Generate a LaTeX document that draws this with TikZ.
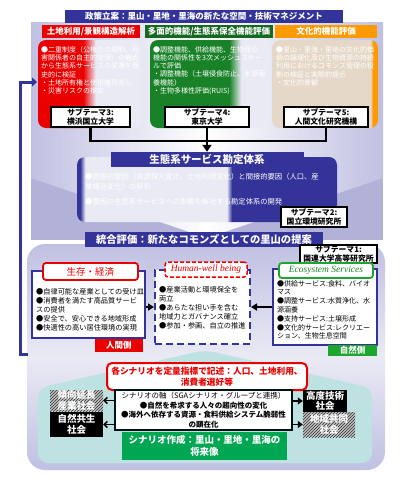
\documentclass[tikz,border=0pt]{standalone}
\usepackage{fontspec}
\setmainfont{Noto Sans CJK JP}
\newfontfamily\romfont{Liberation Serif}
\usetikzlibrary{arrows.meta,patterns}

\definecolor{navyblue}{RGB}{51,51,153}
\definecolor{colred}{RGB}{235,0,0}
\definecolor{colgreen}{RGB}{25,130,40}
\definecolor{colorange}{RGB}{255,153,0}
\definecolor{beige}{RGB}{230,216,200}
\definecolor{lavender}{RGB}{192,192,226}
\definecolor{lavdeep}{RGB}{178,178,216}
\definecolor{palelav}{RGB}{234,234,245}
\definecolor{houseteal}{RGB}{190,226,226}
\definecolor{leafgreen}{RGB}{0,166,81}
\definecolor{tagreen}{RGB}{30,165,45}

\pgfdeclarehorizontalshading{redfade}{100bp}{color(0bp)=(colred); color(47bp)=(colred); color(53bp)=(palelav); color(100bp)=(palelav)}
\pgfdeclarehorizontalshading{greenfade}{100bp}{color(0bp)=(colgreen); color(58bp)=(colgreen); color(63bp)=(palelav); color(100bp)=(palelav)}
\pgfdeclarehorizontalshading{orangefade}{100bp}{color(0bp)=(beige); color(71.5bp)=(beige); color(72.6bp)=(colorange); color(100bp)=(colorange)}
\pgfdeclarehorizontalshading{navyfade}{100bp}{color(0bp)=(navyblue); color(25.6bp)=(navyblue); color(26.6bp)=(palelav); color(53.8bp)=(palelav); color(54.8bp)=(navyblue); color(100bp)=(navyblue)}

\newcommand{\fsz}[2]{\fontsize{#1}{#2}\selectfont}

\tikzset{
    headbar/.style={fill=navyblue, text=white, inner sep=0, font=\fsz{8.5}{10}\bfseries},
    colhead/.style={text=white, inner sep=0, minimum height=13, font=\fsz{8.5}{10}\bfseries},
    colbox/.style={shade, rounded corners=8, inner sep=0, minimum height=88},
    coltext/.style={text=white, anchor=north west, align=left, inner sep=0, font=\fsz{7}{8.3}},
    subbox/.style={draw=black, line width=1.3pt, fill=white, align=center, inner sep=0, minimum height=20, font=\fsz{7.8}{8.8}\bfseries},
    bodytext/.style={text=black, anchor=north west, align=left, inner sep=0, font=\fsz{7.2}{9}},
    panel/.style={draw=navyblue, line width=2pt, fill=white, inner sep=0},
    labelbox/.style={fill=white, rounded corners=3, line width=1.8pt, inner sep=0},
    tagbox/.style={text=white, inner sep=0, font=\fsz{8.5}{9}\bfseries},
    sidebox/.style={minimum width=53, text=white, align=center, inner sep=0, font=\fsz{9.5}{10.5}\bfseries},
    darkbox/.style={sidebox, fill=black},
    hatchbox/.style={sidebox, preaction={fill=gray!50}, pattern=north east lines, pattern color=black!80},
    joinline/.style={line width=2.2pt},
    sidearrow/.style={line width=2pt, -{Triangle[length=6pt,width=7pt]}},
    leftarrow/.style={line width=1.6pt, -{Straight Barb[length=3pt,width=6pt]}},
    rightarrow/.style={line width=1.6pt, -{Triangle[length=5pt,width=7pt]}},
    fbline/.style={navyblue, line width=3pt, -{Triangle[length=5pt,width=9pt]}}
}

\begin{document}
\begin{tikzpicture}[x=1pt, y=-1pt]
    \useasboundingbox (0,0) rectangle (400,483);
    \fill[lavdeep] (31,22) rectangle (383,240);
    \shade[left color=lavender, right color=lavender, middle color=white] (31,22) -- (383,22) -- (383,178) -- (207,238) -- (31,178) -- cycle;
    \shade[top color=lavender, bottom color=lavender, middle color=palelav, rounded corners=18] (27,244) rectangle (385,470);
    \fill[houseteal, rounded corners=10] (38,388) -- (205,350) -- (372,388) -- (372,463) -- (38,463) -- cycle;

    \node[headbar, minimum width=278, minimum height=13] (policy) at (204,16.5) {政策立案：里山・里地・里海の新たな空間・技術マネジメント};
    \node[colhead, fill=colred, minimum width=98] (landhead) at (91,31.5) {土地利用/景観構造解析};
    \node[colhead, fill=colgreen!80!black, minimum width=128] (multihead) at (209,31.5) {多面的機能/生態系保全機能評価};
    \node[colhead, fill=colorange, minimum width=102] (culthead) at (326,31.5) {文化的機能評価};

    \node[colbox, shading=redfade, minimum width=103] (landbox) at (89.5,84) {};
    \node[colbox, shading=greenfade, minimum width=120] (multibox) at (210,84) {};
    \node[colbox, shading=orangefade, minimum width=106] (cultbox) at (325,84) {};
    \node[coltext] (landtext) at (41,46) {●二重制度（公権力の規制、利\\害関係者の自主的管理）の観点\\から生態系サービスの変遷を歴\\史的に検証\\・土地所有権と使用権見直し\\・災害リスクの推定};
    \node[coltext] (multitext) at (153,46) {●調整機能、供給機能、生物保全\\機能の関係性を3次メッシュスケー\\ルで評価\\・調整機能（土壌侵食防止、水源涵\\養機能）\\・生物多様性評価(RUIS)};
    \node[coltext] (culttext) at (276,46) {●里山・里海・里地の文化的価\\値の論理化及び生物資源の持続\\利用におけるコモンズ管理の役\\割の検証と実際的提示\\・文化的景観};

    \node[subbox, minimum width=79] (sub3) at (90.5,117) {サブテーマ3:\\横浜国立大学};
    \node[subbox, minimum width=84] (sub4) at (207,117) {サブテーマ4:\\東京大学};
    \node[subbox, minimum width=84] (sub5) at (326,117) {サブテーマ5:\\人間文化研究機構};

    \node[shade, shading=navyfade, rounded corners=8, inner sep=0, minimum width=260, minimum height=65] (esbox) at (207,189.5) {};
    \node[headbar, minimum width=193, minimum height=15, font=\fsz{10.5}{12}\bfseries] (esbar) at (207,159.5) {生態系サービス勘定体系};
    \node[coltext, font=\fsz{7.3}{10}] (estext) at (85,173) {●直接的要因（資源投入変化、土地利用変化）と間接的要因（人口、産\\業構造変化）の解析\\[5pt]●要因の生態系サービスへの影響を解析する勘定体系の開発};
    \node[subbox, minimum width=66] (sub2) at (314,217) {サブテーマ2:\\国立環境研究所};

    \node[headbar, minimum width=238, minimum height=15, font=\fsz{10.3}{12}\bfseries] (evalbar) at (204,239.5) {統合評価：新たなコモンズとしての里山の提案};
    \node[subbox, minimum width=77, minimum height=18, font=\fsz{7.8}{8.4}\bfseries] (sub1) at (338.5,254) {サブテーマ1:\\国連大学高等研究所};

    \node[panel, minimum width=113, minimum height=67] (lifebox) at (88.5,304.5) {};
    \node[labelbox, draw=colred, minimum width=95, minimum height=17, text=colred, font=\fsz{9.5}{10}] (lifetitle) at (90.5,271.5) {生存・経済};
    \node[bodytext] (lifetext) at (36,288) {●自律可能な産業としての受け皿\\●消費者を満たす高品質サービ\\スの提供\\●安全で、安心できる地域形成\\●快適性の高い居住環境の実現};
    \node[tagbox, fill=colred, minimum width=48, minimum height=13] (humantag) at (119,345.5) {人間側};

    \node[panel, dash pattern=on 7pt off 4pt, minimum width=95, minimum height=74] (hwbox) at (202.5,307) {};
    \node[labelbox, draw=colred, dash pattern=on 4pt off 2pt, line width=1.5pt, minimum width=82, minimum height=15, text=colred, font=\fsz{9.5}{10}\romfont\itshape] (hwtitle) at (206,269.5) {Human-well being};
    \node[bodytext] (hwtext) at (159,286) {●産業活動と環境保全を\\両立\\●あらたな担い手を含む\\地域力とガバナンス確立\\●参加・参画、自立の推進};

    \node[panel, minimum width=104, minimum height=76] (ecobox) at (325,307) {};
    \node[labelbox, draw=tagreen, minimum width=94, minimum height=15, text=colgreen, font=\fsz{9.5}{10}\romfont\itshape] (ecotitle) at (326,270.5) {Ecosystem Services};
    \node[bodytext, font=\fsz{7}{8.8}] (ecotext) at (277,280) {●供給サービス:食料、バイオ\\マス\\●調整サービス:水質浄化、水\\源涵養\\●支持サービス:土壌形成\\●文化的サービス:レクリエー\\ション、生物生息空間};
    \node[tagbox, fill=tagreen, minimum width=49, minimum height=11] (naturetag) at (352.5,350.5) {自然側};

    \draw[sidearrow] (lifebox.east |- hwbox.west) -- (hwbox.west);
    \draw[sidearrow] (ecobox.west |- hwbox.east) -- (hwbox.east);

    \node[labelbox, draw=colred, rounded corners=5, line width=2pt, minimum width=200, minimum height=27, text=colred, align=center, font=\fsz{8.7}{11}\bfseries] (quantbox) at (207,376.5) {各シナリオを定量指標で記述：人口、土地利用、\\消費者選好等};
    \node[draw=black!85!teal, line width=2pt, fill=white, minimum width=177, minimum height=40, inner sep=0, align=center, font=\fsz{7.5}{9.5}] (axisbox) at (203.5,410) {シナリオの軸（SGAシナリオ・グループと連携）\\\textbf{●自然を希求する人々の趨向性の変化}\\\textbf{●海外へ依存する資源・食料供給システム脆弱性}\\\textbf{の顕在化}};
    \node[fill=leafgreen, text=white, minimum width=165, minimum height=28, inner sep=0, align=center, font=\fsz{9.5}{12}\bfseries] (scenebox) at (204.5,446) {シナリオ作成：里山・里地・里海の\\将来像};
    \node[hatchbox, minimum height=21] (trendbox) at (76.5,400.5) {傾向延長\\産業社会};
    \node[darkbox, minimum height=25] (symbox) at (76.5,424.5) {自然共生\\社会};
    \node[darkbox, minimum width=44, minimum height=22] (techbox) at (325,401) {高度技術\\社会};
    \node[hatchbox, minimum width=52, minimum height=25] (localbox) at (329,424.5) {地域共同\\社会};
    \draw[leftarrow] (axisbox.west |- trendbox.east) -- (trendbox.east);
    \draw[leftarrow] (axisbox.west |- symbox.east) -- (symbox.east);
    \draw[rightarrow] (axisbox.east |- techbox.west) -- (techbox.west);
    \draw[rightarrow] (axisbox.east |- localbox.west) -- (localbox.west);

    \draw[joinline] (sub3.south) -- ++(0,13) -| (sub5.south);
    \draw[joinline, -{Triangle[length=7pt,width=9pt]}] (sub4.south) -- (sub4.south |- esbar.north);
    \coordinate (fbstart) at (28,354);
    \coordinate (fbend) at (37,82);
    \draw[fbline] (fbstart) -- ++(-8,0) |- (fbend);
\end{tikzpicture}
\end{document}
